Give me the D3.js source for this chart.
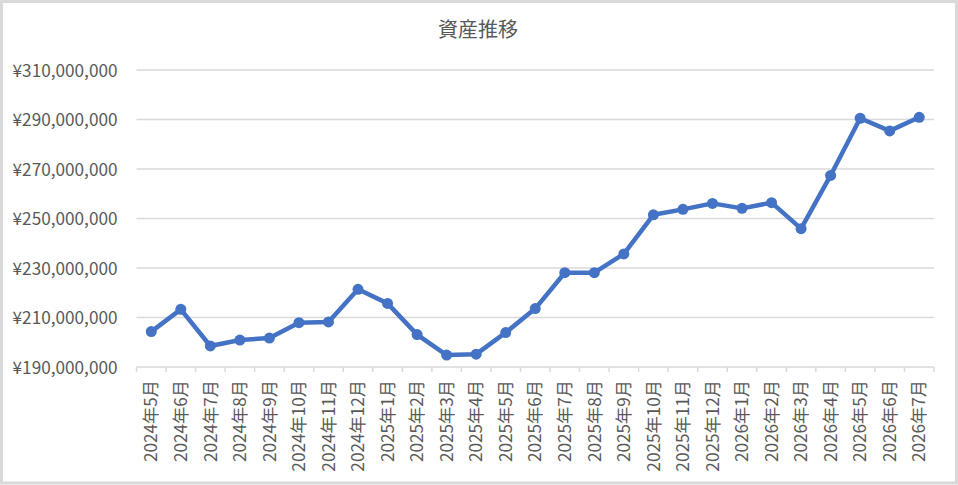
<!DOCTYPE html>
<html><head><meta charset="utf-8">
<script src="https://cdn.jsdelivr.net/npm/d3@7"></script>
<style>
html,body{margin:0;padding:0;background:#fff;}
svg{display:block;}
text{font-family:"Noto Sans CJK JP","Noto Sans",sans-serif;fill:#595959;}
</style></head>
<body>
<svg id="chart" width="958" height="485"></svg>
<script>
const title = "資産推移";
const categories = [
  "2024年5月","2024年6月","2024年7月","2024年8月","2024年9月","2024年10月","2024年11月","2024年12月",
  "2025年1月","2025年2月","2025年3月","2025年4月","2025年5月","2025年6月","2025年7月","2025年8月",
  "2025年9月","2025年10月","2025年11月","2025年12月",
  "2026年1月","2026年2月","2026年3月","2026年4月","2026年5月","2026年6月","2026年7月"
];
const assets = [
  204300000, 213300000, 198500000, 200900000, 201700000, 207900000, 208200000, 221400000,
  215700000, 203100000, 194800000, 195200000, 203900000, 213600000, 228100000, 228100000,
  235700000, 251500000, 253700000, 256100000,
  254100000, 256400000, 245900000, 267400000, 290500000, 285400000, 290900000
];
const yTicks = [190000000, 210000000, 230000000, 250000000, 270000000, 290000000, 310000000];

const svg = d3.select("#chart");
const W = 958, H = 485;
const m = {left: 136.5, right: 934, top: 70, bottom: 367};

svg.append("rect").attr("x",1.5).attr("y",1.5).attr("width",W-3).attr("height",H-3.5)
  .attr("fill","#fff").attr("stroke","#d9d9d9").attr("stroke-width",3);

const x = d3.scaleBand().domain(categories).range([m.left, m.right]).padding(0);
const y = d3.scaleLinear().domain([190000000, 310000000]).range([m.bottom, m.top]);
const cx = d => x(d) + x.bandwidth()/2;

// gridlines
svg.append("g").selectAll("line").data(yTicks.slice(1)).join("line")
  .attr("x1", m.left).attr("x2", m.right)
  .attr("y1", d => y(d)).attr("y2", d => y(d))
  .attr("stroke","#d9d9d9").attr("stroke-width",1.5);

// y labels
const fmt = d3.format(",");
const yAxis = svg.append("g").attr("transform",`translate(${m.left-19},0)`)
  .call(d3.axisLeft(y).tickValues(yTicks).tickSize(0).tickPadding(0).tickFormat(v => "¥" + fmt(v)));
yAxis.select(".domain").remove();
yAxis.selectAll("text").style("font-size","17.2px").style("fill","#595959")
  .style("font-family",'"Noto Sans CJK JP",sans-serif').attr("dy","0.35em");

// x axis line & ticks
const xa = svg.append("g");
xa.append("line").attr("x1", m.left).attr("x2", m.right)
  .attr("y1", m.bottom).attr("y2", m.bottom).attr("stroke","#d9d9d9").attr("stroke-width",1.5);
const edges = categories.map(c => x(c)).concat([m.right]);
xa.selectAll("line.tick").data(edges).join("line").attr("class","tick")
  .attr("x1", d => d).attr("x2", d => d).attr("y1", m.bottom).attr("y2", m.bottom + 5)
  .attr("stroke","#d9d9d9").attr("stroke-width",1.5);
xa.selectAll("text").data(categories).join("text")
  .attr("transform", d => `translate(${cx(d)},${m.bottom+13}) rotate(-90)`)
  .attr("text-anchor","end").attr("dy","0.36em")
  .style("font-size","17.2px").text(d => d);

// line
const data = categories.map((c,i) => ({c, v: assets[i]}));
svg.append("path").datum(data)
  .attr("d", d3.line().x(d => cx(d.c)).y(d => y(d.v)))
  .attr("fill","none").attr("stroke","#4472C4").attr("stroke-width",4.5)
  .attr("stroke-linejoin","round").attr("stroke-linecap","round");
svg.append("g").selectAll("circle").data(data).join("circle")
  .attr("cx", d => cx(d.c)).attr("cy", d => y(d.v)).attr("r",5.5)
  .attr("fill","#4472C4");

// title
svg.append("text").attr("x", 478).attr("y", 37).attr("text-anchor","middle")
  .style("font-size","20px").text(title);
</script>
</body></html>
